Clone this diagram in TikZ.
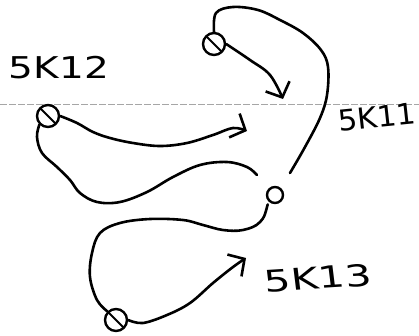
\documentclass[tikz,border=0pt]{standalone}
\usepackage{fontspec}
\setsansfont{DejaVu Sans}
\usetikzlibrary{arrows.meta}

\begin{document}
\begin{tikzpicture}[
  x=1pt, y=-1pt,
  font=\sffamily,
  track/.style={line width=2.6pt, line cap=round, line join=round},
  barb/.style={-{Straight Barb[length=12pt, width=26pt, line width=2.6pt]}},
  site/.style={circle, draw, line width=2.4pt, minimum size=22pt, inner sep=0pt,
    path picture={\draw[line width=2pt]
      (path picture bounding box.north west) -- (path picture bounding box.south east);}},
  hub/.style={circle, draw, line width=2.4pt, minimum size=16pt, inner sep=0pt},
  lbl/.style={font=\sffamily\fontsize{30}{30}\selectfont, inner sep=0pt},
  guide/.style={gray!70, line width=0.7pt, dash pattern=on 7pt off 2pt}
]
\useasboundingbox (0,0) rectangle (419,335);

% guide line
\coordinate (gl) at (0,104);
\coordinate (gr) at (419,104);
\draw[guide] (gl) -- (gr);

% sites
\node[site] (p11) at (214,44) {};
\node[site] (p12) at (48,116) {};
\node[site] (p13) at (116,320) {};
\node[hub] (mid) at (275,195) {};

% labels
\node[lbl, xscale=1.3] (t12) at (59,68) {5K12};
\node[lbl, font=\sffamily\fontsize{29}{29}\selectfont, xscale=1.05, rotate=6]
  (t11) at (377,117) {5K11};
\node[lbl, xscale=1.4, rotate=5] (t13) at (318,278) {5K13};

% free ends
\coordinate (a11) at (283,99);
\coordinate (a12) at (247,131);
\coordinate (e12) at (257,175);
\coordinate (a13) at (246,258);

% loop of 5K11
\draw[track] plot[smooth, tension=0.6] coordinates {(290,173) (305,147) (320,118)
  (327,95) (328,67) (321,50) (303,33) (280,20) (258,10) (233,7) (216,13)
  (p11.north)};
\draw[track, barb] plot[smooth, tension=0.6] coordinates {(p11.east) (250,60)
  (270,75) (a11)};

% loop of 5K12
\draw[track, barb] plot[smooth, tension=0.6] coordinates {(p12.east) (77,123)
  (93,132) (110,138) (133,143) (160,146) (187,143) (213,135) (233,128) (a12)};
\draw[track] plot[smooth, tension=0.6] coordinates {(p12.south west) (37,137)
  (42,153) (57,167) (70,180) (80,193) (97,202) (120,202) (147,192) (173,177)
  (200,165) (227,162) (247,167) (e12)};

% loop of 5K13
\draw[track, shorten <=3pt] plot[smooth, tension=0.6] coordinates {(mid.south west)
  (260,222) (243,230) (223,230) (203,225) (183,220) (150,219) (120,223)
  (100,233) (92,253) (90,277) (97,300) (p13.north west)};
\draw[track, barb] plot[smooth, tension=0.6] coordinates {(p13.east) (143,323)
  (167,315) (190,303) (213,283) (233,267) (a13)};

\end{tikzpicture}
\end{document}
